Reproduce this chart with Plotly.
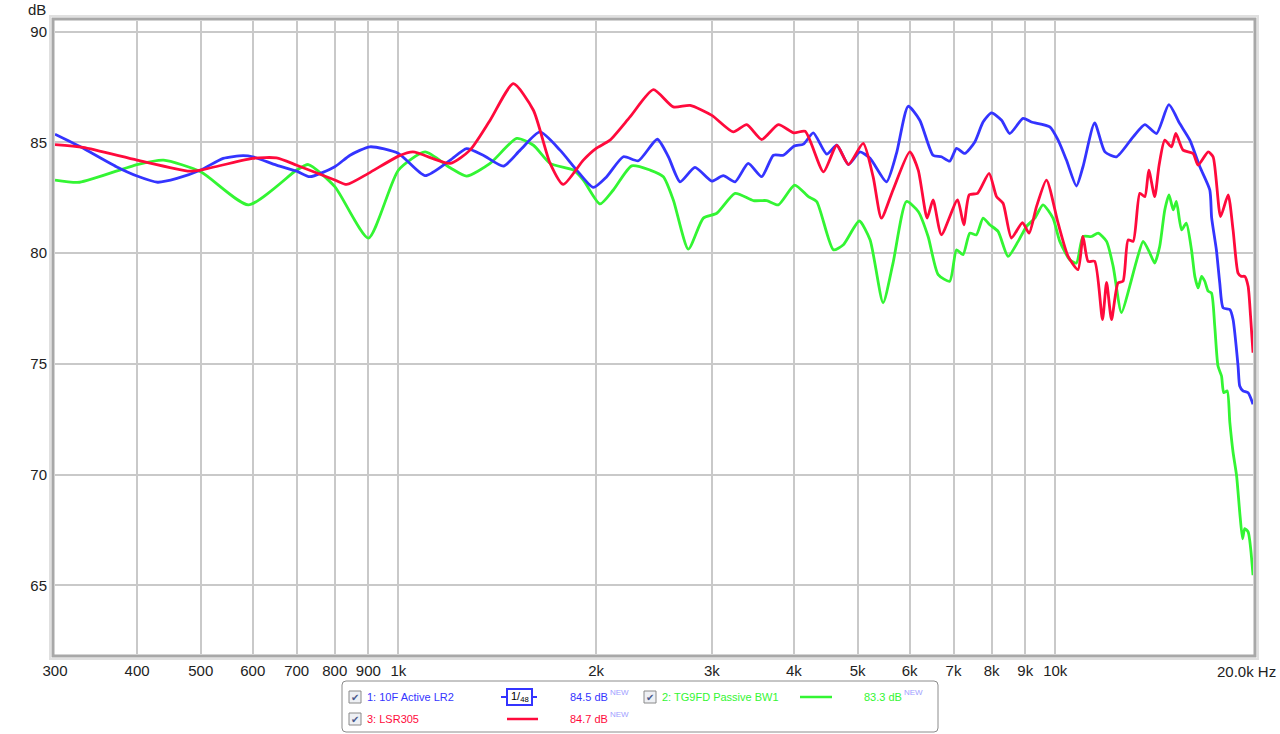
import math
import plotly.graph_objects as go

# ---------------- data ----------------
blue_name = "1: 10F Active LR2"
blue_f = [300, 328, 372, 400, 430, 460, 500, 541, 580, 600, 652, 700, 733, 800, 844, 905, 1000, 1098, 1199,
          1270, 1346, 1445, 1532, 1642, 1762, 1868, 1980, 2075, 2200, 2319, 2478, 2576, 2684, 2828, 3000,
          3123, 3255, 3408, 3573, 3723, 3855, 4000, 4137, 4281, 4488, 4649, 4843, 5041, 5224, 5534, 5731,
          5970, 6219, 6515, 6709, 6907, 7074, 7281, 7542, 7764, 7997, 8284, 8524, 8933, 9200, 9810, 10100,
          10400, 10770, 11020, 11480, 11900, 12390, 13140, 13690, 14260, 14890, 15470, 16030, 16600, 17190,
          17300, 17590, 17800, 18010, 18440, 18650, 18980, 19090, 19310, 19660, 20000]
blue_db = [85.37, 84.8, 83.9, 83.48, 83.2, 83.37, 83.75, 84.28, 84.4, 84.35, 83.97, 83.7, 83.45, 83.9, 84.42,
           84.8, 84.5, 83.5, 84.2, 84.72, 84.42, 83.93, 84.65, 85.47, 84.65, 83.75, 82.97, 83.45, 84.35, 84.17,
           85.14, 84.35, 83.22, 83.87, 83.25, 83.5, 83.22, 84.05, 83.45, 84.42, 84.42, 84.83, 84.92, 85.43,
           84.47, 84.87, 84.0, 84.57, 84.28, 83.22, 84.5, 86.63, 86.0, 84.42, 84.35, 84.15, 84.73, 84.5, 85.02,
           85.92, 86.33, 86.0, 85.4, 86.08, 85.92, 85.7, 85.1, 84.2, 83.03, 83.9, 85.88, 84.57, 84.35, 85.25,
           85.8, 85.4, 86.7, 85.85, 85.1, 83.9, 82.85, 81.6, 80.15, 78.65, 77.53, 77.45, 77.0, 74.9, 74.0,
           73.78, 73.7, 73.18]

green_name = "2: TG9FD Passive BW1"
green_f = [300, 327, 400, 439, 500, 591, 700, 729, 800, 900, 1000, 1098, 1199, 1270, 1379, 1514, 1605, 1702,
           1846, 1912, 2027, 2124, 2265, 2416, 2531, 2621, 2763, 2912, 3052, 3255, 3470, 3636, 3788, 4010,
           4209, 4333, 4594, 4758, 5030, 5224, 5468, 5662, 5935, 6185, 6403, 6633, 6907, 7074, 7237, 7410,
           7585, 7764, 7948, 8183, 8475, 8779, 9039, 9307, 9580, 9920, 10160, 10520, 10770, 11020, 11350,
           11620, 11970, 12250, 12610, 12980, 13290, 13610, 13930, 14170, 14420, 14680, 14900, 15120, 15290,
           15570, 15830, 16120, 16310, 16500, 16700, 16890, 17090, 17290, 17490, 17690, 17910, 18050, 18270,
           18440, 18650, 18880, 19090, 19280, 19430, 19660, 20000]
green_db = [83.3, 83.2, 84.0, 84.2, 83.67, 82.18, 83.75, 84.0, 83.0, 80.68, 83.75, 84.57, 83.85, 83.48, 84.05,
            85.18, 84.87, 84.05, 83.75, 83.3, 82.22, 82.85, 83.94, 83.75, 83.45, 82.4, 80.18, 81.58, 81.8,
            82.7, 82.37, 82.37, 82.18, 83.07, 82.55, 82.33, 80.15, 80.38, 81.45, 80.6, 77.76, 79.55, 82.33,
            81.88, 80.75, 79.03, 78.73, 80.15, 79.93, 80.9, 80.83, 81.58, 81.28, 80.98, 79.85, 80.53, 81.2,
            81.58, 82.18, 81.58, 80.53, 79.7, 79.55, 80.75, 80.75, 80.9, 80.53, 79.4, 77.31, 78.5, 79.63,
            80.53, 80.0, 79.55, 80.3, 81.95, 82.63, 81.95, 82.33, 81.05, 81.35, 80.15, 78.95, 78.43, 78.95,
            78.73, 78.28, 78.2, 76.7, 74.9, 74.45, 73.7, 73.78, 72.36, 71.01, 69.96, 68.31, 67.1, 67.56,
            67.41, 65.46]

red_name = "3: LSR305"
red_f = [300, 331, 400, 481, 500, 600, 652, 700, 800, 834, 900, 1000, 1052, 1199, 1285, 1379, 1496, 1605,
         1702, 1782, 1912, 2000, 2099, 2252, 2444, 2621, 2780, 3000, 3234, 3390, 3573, 3788, 4000, 4161,
         4437, 4649, 4843, 5100, 5280, 5436, 5662, 6004, 6185, 6381, 6515, 6709, 7099, 7256, 7398, 7615,
         7929, 8139, 8327, 8576, 8914, 9123, 9363, 9696, 10100, 10460, 10830, 11020, 11220, 11480, 11800,
         11970, 12180, 12460, 12680, 12910, 13140, 13450, 13690, 13880, 14170, 14390, 14680, 15030, 15260,
         15650, 16210, 16500, 17090, 17390, 17850, 18330, 18650, 18980, 19200, 19430, 19660, 19830, 20000]
red_db = [84.9, 84.77, 84.2, 83.7, 83.75, 84.28, 84.3, 83.97, 83.3, 83.1, 83.6, 84.38, 84.57, 84.05, 84.65,
          86.0, 87.65, 86.45, 84.05, 83.1, 84.2, 84.73, 85.1, 86.15, 87.38, 86.6, 86.67, 86.22, 85.47, 85.8,
          85.13, 85.8, 85.43, 85.5, 83.67, 84.87, 84.0, 84.95, 83.45, 81.58, 82.85, 84.57, 83.75, 81.58,
          82.4, 80.83, 82.4, 81.28, 82.63, 82.7, 83.6, 82.55, 82.25, 80.68, 81.38, 80.9, 82.1, 83.3, 81.35,
          79.85, 79.25, 80.75, 79.63, 79.63, 77.0, 78.68, 77.0, 78.65, 78.73, 80.6, 80.53, 82.7, 82.55,
          83.75, 82.55, 83.97, 85.1, 84.8, 85.4, 84.65, 84.5, 83.97, 84.57, 84.35, 81.65, 82.63, 81.05,
          79.1, 78.95, 78.95, 78.5, 77.15, 75.5]

x_tickvals = [300, 400, 500, 600, 700, 800, 900, 1000, 2000, 3000, 4000, 5000, 6000, 7000, 8000, 9000,
              10000]
x_ticktext = ["300", "400", "500", "600", "700", "800", "900", "1k", "2k", "3k", "4k", "5k", "6k", "7k",
              "8k", "9k", "10k"]
x_last_label = "20.0k Hz"
y_tickvals = [65, 70, 75, 80, 85, 90]
y_ticktext = ["65", "70", "75", "80", "85", "90"]
legend_levels = ["84.5 dB", "83.3 dB", "84.7 dB"]

BLUE = "#3434ff"
GREEN = "#33f533"
RED = "#ff0a3c"

# ---------------- layout geometry ----------------
W, H = 1280, 734
L, R, T, B = 55, 27, 21, 80
PW = W - L - R
PH = H - T - B


def px(x):
    return (x - L) / PW


def py(y):
    return (H - B - y) / PH


FONT = "Liberation Sans, Arial, sans-serif"

fig = go.Figure()
for name, f, db, col in [(green_name, green_f, green_db, GREEN),
                         (blue_name, blue_f, blue_db, BLUE),
                         (red_name, red_f, red_db, RED)]:
    fig.add_trace(go.Scatter(x=f, y=db, mode="lines", name=name,
                             line=dict(color=col, width=2.8, shape="spline", smoothing=0.6),
                             hoverinfo="skip"))

shapes = []
annotations = []


def frame(off, color, width):
    return dict(type="rect", xref="paper", yref="paper",
                x0=-off / PW, x1=1 + off / PW, y0=-off / PH, y1=1 + off / PH,
                line=dict(color=color, width=width), fillcolor="rgba(0,0,0,0)", layer="above")


shapes.append(frame(5, "#e0e0e0", 2))
shapes.append(frame(2, "#a8a8a8", 3))

annotations.append(dict(text="dB", xref="paper", yref="paper", x=px(48), y=py(9), xanchor="right",
                        yanchor="middle", showarrow=False, font=dict(family=FONT, size=15, color="#222")))
annotations.append(dict(text=x_last_label, xref="paper", yref="paper", x=px(1278), y=py(671), xanchor="right",
                        yanchor="middle", showarrow=False, font=dict(family=FONT, size=15, color="#222")))

lx0, lx1, ly0, ly1, r = 342, 938, 681, 732, 4


def rounded_path(x0, y0, x1, y1, r):
    pts = [
        f"M {px(x0 + r)},{py(y0)}",
        f"L {px(x1 - r)},{py(y0)}",
        f"Q {px(x1)},{py(y0)} {px(x1)},{py(y0 + r)}",
        f"L {px(x1)},{py(y1 - r)}",
        f"Q {px(x1)},{py(y1)} {px(x1 - r)},{py(y1)}",
        f"L {px(x0 + r)},{py(y1)}",
        f"Q {px(x0)},{py(y1)} {px(x0)},{py(y1 - r)}",
        f"L {px(x0)},{py(y0 + r)}",
        f"Q {px(x0)},{py(y0)} {px(x0 + r)},{py(y0)}",
        "Z",
    ]
    return " ".join(pts)


shapes.append(dict(type="path", xref="paper", yref="paper", path=rounded_path(lx0, ly0, lx1, ly1, r),
                   line=dict(color="#8c8c8c", width=1), fillcolor="white", layer="above"))


def checkbox(cx, cy):
    shapes.append(dict(type="rect", xref="paper", yref="paper",
                       x0=px(cx - 6), x1=px(cx + 6), y0=py(cy + 6), y1=py(cy - 6),
                       line=dict(color="#8a8a8a", width=1), fillcolor="#eef0f4", layer="above"))
    annotations.append(dict(text="✔", xref="paper", yref="paper", x=px(cx), y=py(cy), xanchor="center",
                            yanchor="middle", showarrow=False,
                            font=dict(family="DejaVu Sans", size=10, color="#4a5a8c")))


def label(text, x, y, color, size=11, anchor="left"):
    annotations.append(dict(text=text, xref="paper", yref="paper", x=px(x), y=py(y), xanchor=anchor,
                            yanchor="middle", showarrow=False,
                            font=dict(family=FONT, size=size, color=color)))


def hline(x0, x1, y, color, width=2.5):
    shapes.append(dict(type="line", xref="paper", yref="paper", x0=px(x0), x1=px(x1), y0=py(y), y1=py(y),
                       line=dict(color=color, width=width), layer="above"))


NEWC = "#a0a0ff"
row1, row2 = 697, 719
checkbox(355, row1)
label(blue_name, 365, row1, BLUE)
hline(501, 537, row1, BLUE, 2)
shapes.append(dict(type="rect", xref="paper", yref="paper", x0=px(507), x1=px(532), y0=py(705), y1=py(689),
                   line=dict(color=BLUE, width=2), fillcolor="white", layer="above"))
label("1/<sub>48</sub>", 519.5, row1, "#000", size=11, anchor="center")
label(legend_levels[0], 568, row1, BLUE)
label("NEW", 608, row1 - 5, NEWC, size=8)
checkbox(650, row1)
label(green_name, 660, row1, GREEN)
hline(800, 832, row1, GREEN)
label(legend_levels[1], 862, row1, GREEN)
label("NEW", 902, row1 - 5, NEWC, size=8)
checkbox(355, row2)
label(red_name, 365, row2, RED)
hline(507, 538, row2, RED)
label(legend_levels[2], 568, row2, RED)
label("NEW", 608, row2 - 5, NEWC, size=8)

fig.update_layout(
    width=W, height=H,
    margin=dict(l=L, r=R, t=T, b=B, pad=0),
    paper_bgcolor="white", plot_bgcolor="white",
    showlegend=False,
    shapes=shapes, annotations=annotations,
    font=dict(family=FONT, size=15, color="#222"),
    xaxis=dict(type="log", range=[math.log10(300), math.log10(20000)],
               tickvals=x_tickvals, ticktext=x_ticktext, showgrid=True, gridcolor="#c9c9c9", gridwidth=1.5,
               zeroline=False, showline=False, ticks="", ticklabelstandoff=6,
               tickfont=dict(family=FONT, size=15, color="#222"), fixedrange=True),
    yaxis=dict(range=[61.9, 90.48], tickvals=y_tickvals, ticktext=y_ticktext, showgrid=True,
               gridcolor="#c9c9c9", gridwidth=1.5, zeroline=False, showline=False, ticks="",
               ticklabelstandoff=7, tickfont=dict(family=FONT, size=15, color="#222"), fixedrange=True),
)

fig.write_html("out.html", config={"displayModeBar": False},
               post_script="document.body.style.margin='0';document.body.style.overflow='hidden';")
